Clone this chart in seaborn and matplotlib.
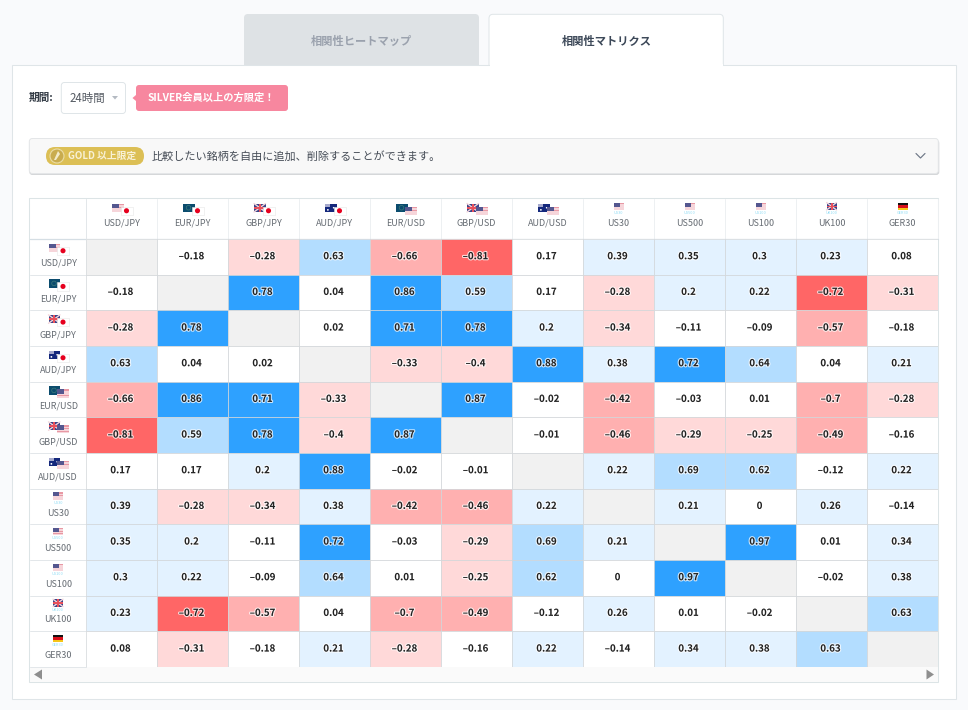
import numpy as np
import pandas as pd
import seaborn as sns
import matplotlib
matplotlib.use("Agg")
import matplotlib.pyplot as plt
from matplotlib.colors import ListedColormap, BoundaryNorm
from matplotlib.patches import Rectangle, FancyBboxPatch, Circle, Polygon
from matplotlib.transforms import ScaledTranslation
import matplotlib.patheffects as pe

symbols = ["USD/JPY", "EUR/JPY", "GBP/JPY", "AUD/JPY", "EUR/USD", "GBP/USD",
           "AUD/USD", "US30", "US500", "US100", "UK100", "GER30"]
n = np.nan
usd_jpy = [n, -0.18, -0.28, 0.63, -0.66, -0.81, 0.17, 0.39, 0.35, 0.3, 0.23, 0.08]
eur_jpy = [-0.18, n, 0.78, 0.04, 0.86, 0.59, 0.17, -0.28, 0.2, 0.22, -0.72, -0.31]
gbp_jpy = [-0.28, 0.78, n, 0.02, 0.71, 0.78, 0.2, -0.34, -0.11, -0.09, -0.57, -0.18]
aud_jpy = [0.63, 0.04, 0.02, n, -0.33, -0.4, 0.88, 0.38, 0.72, 0.64, 0.04, 0.21]
eur_usd = [-0.66, 0.86, 0.71, -0.33, n, 0.87, -0.02, -0.42, -0.03, 0.01, -0.7, -0.28]
gbp_usd = [-0.81, 0.59, 0.78, -0.4, 0.87, n, -0.01, -0.46, -0.29, -0.25, -0.49, -0.16]
aud_usd = [0.17, 0.17, 0.2, 0.88, -0.02, -0.01, n, 0.22, 0.69, 0.62, -0.12, 0.22]
us30 = [0.39, -0.28, -0.34, 0.38, -0.42, -0.46, 0.22, n, 0.21, 0, 0.26, -0.14]
us500 = [0.35, 0.2, -0.11, 0.72, -0.03, -0.29, 0.69, 0.21, n, 0.97, 0.01, 0.34]
us100 = [0.3, 0.22, -0.09, 0.64, 0.01, -0.25, 0.62, 0, 0.97, n, -0.02, 0.38]
uk100 = [0.23, -0.72, -0.57, 0.04, -0.7, -0.49, -0.12, 0.26, 0.01, -0.02, n, 0.63]
ger30 = [0.08, -0.31, -0.18, 0.21, -0.28, -0.16, 0.22, -0.14, 0.34, 0.38, 0.63, n]

band_edges = [-1, -0.705, -0.405, -0.195, 0.195, 0.395, 0.695, 1]
band_colors = ["#FF6666", "#FFB0B0", "#FFD9D9", "#FFFFFF", "#E3F2FF", "#B3DDFF", "#2EA1FF"]

flag_pairs = [("us", "jp"), ("eu", "jp"), ("uk", "jp"), ("au", "jp"), ("eu", "us"), ("uk", "us"),
              ("au", "us"), ("us", None), ("us", None), ("us", None), ("uk", None), ("de", None)]

FONT = ["Noto Sans CJK JP", "DejaVu Sans"]
plt.rcParams["font.family"] = FONT
sns.set_style("white")
plt.rcParams["font.family"] = FONT
plt.rcParams["axes.unicode_minus"] = False

W, H = 968, 710
fig = plt.figure(figsize=(W / 100, H / 100), dpi=100, facecolor="#F9FAFC")
page = fig.add_axes([0, 0, 1, 1])
page.set_xlim(0, W)
page.set_ylim(H, 0)
page.axis("off")

BORDER = "#DFE5E8"

def rect(x0, y0, x1, y1, fc, ec="none", lw=0.8, z=1, alpha=None):
    page.add_patch(Rectangle((x0, y0), x1 - x0, y1 - y0, fc=fc, ec=ec, lw=lw, zorder=z, alpha=alpha))

def rrect(x0, y0, x1, y1, r, fc, ec="none", lw=0.8, z=1, alpha=None):
    page.add_patch(FancyBboxPatch((x0 + r, y0 + r), x1 - x0 - 2 * r, y1 - y0 - 2 * r,
                                  boxstyle=f"round,pad={r},rounding_size={r}",
                                  fc=fc, ec=ec, lw=lw, zorder=z, alpha=alpha))

# Tabs and panel
rrect(244, 14, 479, 80, 4, "#DEE2E5", z=1)
rrect(489, 14.3, 723.3, 80, 4, "#FFFFFF", ec=BORDER, lw=0.7, z=1)
rect(12.3, 65.3, 955.7, 699.3, "#FFFFFF", ec=BORDER, lw=0.75, z=2)
rect(489.6, 64, 722.7, 67, "#FFFFFF", z=3)
page.text(361.5, 41, "相関性ヒートマップ", ha="center", va="center", fontsize=8.1, weight="bold", color="#9AA1AD", zorder=4)
page.text(606.5, 41, "相関性マトリクス", ha="center", va="center", fontsize=8.1, weight="bold", color="#3C4858", zorder=4)

# Controls
page.text(29, 98, "期間:", ha="left", va="center", fontsize=7.7, weight="bold", color="#333B45", zorder=4)
rrect(61.3, 82.5, 125.5, 113.5, 3, "#FFFFFF", ec=BORDER, lw=0.7, z=4)
page.text(70, 98.5, "24時間", ha="left", va="center", fontsize=8.3, color="#555B63", zorder=5)
page.add_patch(Polygon([[112, 96], [118, 96], [115, 99.5]], fc="#B4BAC2", ec="none", zorder=5))
rrect(136, 85, 288, 111, 3, "#F7879F", z=4)
page.add_patch(Polygon([[132.5, 98], [136, 95], [136, 101]], fc="#F7879F", ec="none", zorder=4))
page.text(148, 98, "SILVER会員以上の方限定！", ha="left", va="center", fontsize=7.4, weight="bold", color="#FFFFFF", zorder=5)

# Notice bar
rrect(29.3, 140, 939.3, 175, 3, "#D5D7D9", z=3)
rrect(29.3, 138.5, 938.3, 173.5, 3, "#F8F8F8", ec="#E4E6E8", lw=0.7, z=4)
rrect(46, 147, 144, 165, 9, "#DCBF55", z=5)
page.add_patch(Circle((57, 156), 7, fc="#C9AC4E", ec="#EBDDA6", lw=0.8, zorder=6))
page.add_patch(Polygon([[54, 160], [58, 151], [60, 154], [56, 160]], fc="#F3EBC8", ec="none", zorder=7))
page.text(68.5, 156, "GOLD 以上限定", ha="left", va="center", fontsize=7.0, weight="bold", color="#F8F1D6", zorder=6)
page.text(152, 156, "比較したい銘柄を自由に追加、削除することができます。", ha="left", va="center", fontsize=8.0, color="#464D57", zorder=6)
page.plot([916, 920.5, 925], [153.5, 158, 153.5], color="#6E7787", lw=0.85, zorder=6)

# Table frame
GX0, GX1, GY0, GY1 = 86, 938, 239, 667
rect(29.3, 198.3, 938.3, 682.3, "#FFFFFF", ec="#DCE4E6", lw=0.75, z=3)
rect(30, 667, 937.8, 681.8, "#FAFAFA", z=4)
page.add_patch(Polygon([[34, 674.5], [42, 669.5], [42, 679.5]], fc="#8E8E8E", ec="none", zorder=5))
page.add_patch(Polygon([[934, 674.5], [926.5, 669.5], [926.5, 679.5]], fc="#8E8E8E", ec="none", zorder=5))
cell_w = (GX1 - GX0) / 12
cell_h = (GY1 - GY0) / 12
for i in range(13):
    page.plot([GX0 + i * cell_w] * 2, [198.5, GY0], color="#EDF0F2", lw=0.7, zorder=4)
    page.plot([29.5, GX0], [GY0 + i * cell_h] * 2, color="#E3E7EA", lw=0.7, zorder=4)
page.plot([29.5, 938.3], [GY0, GY0], color="#D5DEE4", lw=0.9, zorder=5)
page.plot([GX0, GX0], [198.5, GY1], color="#E3E7EA", lw=0.7, zorder=5)

# Flags
def flag(kind, x, y, w, h, z=6):
    if kind == "us":
        rect(x, y, x + w, y + h, "#E898A4", z=z)
        for k in range(1, 4):
            rect(x, y + h * (2 * k - 1) / 7 + h / 14, x + w, y + h * (2 * k - 1) / 7 + h * 2 / 7, "#F6D5DA", z=z)
        rect(x, y, x + w * 0.62, y + h * 0.55, "#54578F", z=z)
    elif kind == "jp":
        rect(x, y, x + w, y + h, "#FFFFFF", ec="#E6E6E6", lw=0.4, z=z)
        page.add_patch(Circle((x + w / 2, y + h / 2), h * 0.3, fc="#E6001E", ec="none", zorder=z + 0.1))
    elif kind == "eu":
        rect(x, y, x + w, y + h, "#0B4C6E", z=z)
        page.add_patch(Circle((x + w * 0.48, y + h / 2), h * 0.27, fc="none", ec="#3E7A7A", lw=0.5, zorder=z + 0.1))
    elif kind == "uk":
        rect(x, y, x + w, y + h, "#3A4389", z=z)
        page.plot([x, x + w], [y, y + h], color="#F4D6DA", lw=1.0, zorder=z + 0.1)
        page.plot([x, x + w], [y + h, y], color="#F4D6DA", lw=1.0, zorder=z + 0.1)
        rect(x + w * 0.4, y, x + w * 0.6, y + h, "#E8505B", z=z + 0.2)
        rect(x, y + h * 0.4, x + w, y + h * 0.6, "#E8505B", z=z + 0.2)
    elif kind == "au":
        rect(x, y, x + w, y + h, "#14287C", z=z)
        rect(x, y, x + w * 0.45, y + h * 0.45, "#A5A9CC", z=z + 0.1)
        page.add_patch(Circle((x + w * 0.25, y + h * 0.75), 0.9, fc="#FFFFFF", ec="none", zorder=z + 0.2))
        page.add_patch(Circle((x + w * 0.75, y + h * 0.5), 0.8, fc="#FFFFFF", ec="none", zorder=z + 0.2))
    elif kind == "de":
        rect(x, y, x + w, y + h / 3, "#111111", z=z)
        rect(x, y + h / 3, x + w, y + 2 * h / 3, "#D8101A", z=z)
        rect(x, y + 2 * h / 3, x + w, y + h, "#F5C518", z=z)

def flag_group(name, pair, cx, top):
    a, b = pair
    if b is None:
        flag(a, cx - 5, top - 1, 10, 7.5)
        page.text(cx, top + 9.5, name, ha="center", va="center", fontsize=2.8, color="#8FDCF5", zorder=6)
    else:
        flag(a, cx - 9.5, top, 11.5, 8.5)
        flag(b, cx - 1, top + 3, 12, 8.5, z=7)

for i, (name, pair) in enumerate(zip(symbols, flag_pairs)):
    flag_group(name, pair, GX0 + (i + 0.5) * cell_w, 203.5)
    flag_group(name, pair, 58, GY0 + i * cell_h + 4.5)

# Heatmap
data = pd.DataFrame([usd_jpy, eur_jpy, gbp_jpy, aud_jpy, eur_usd, gbp_usd,
                     aud_usd, us30, us500, us100, uk100, ger30], index=symbols, columns=symbols)
labels = data.map(lambda v: "" if pd.isna(v) else f"{v:g}".replace("-", "–"))
cmap = ListedColormap(band_colors)
cmap.set_bad("#F1F1F1")
norm = BoundaryNorm(band_edges, cmap.N)

ax = fig.add_axes([GX0 / W, 1 - GY1 / H, (GX1 - GX0) / W, (GY1 - GY0) / H], zorder=5)
sns.heatmap(data, ax=ax, cmap=cmap, norm=norm, cbar=False, annot=labels.values, fmt="",
            linewidths=0.5, linecolor="#D2D6D9", antialiased=True,
            annot_kws={"fontsize": 7.0, "weight": "bold", "color": "#222222",
                       "path_effects": [pe.withStroke(linewidth=1.6, foreground="#FFFFFF", alpha=0.75)]})
for t in ax.texts:
    px, py = t.get_position()
    t.set_position((px - 1 / cell_w, py - 0.6 / cell_h))
ax.xaxis.tick_top()
ax.tick_params(axis="both", length=0)
ax.set_xlabel("")
ax.set_ylabel("")
ax.set_xticklabels(symbols, rotation=0, fontsize=6.5, color="#666C73")
ax.tick_params(axis="x", pad=8)
ax.set_yticklabels(symbols, rotation=0, fontsize=6.5, color="#666C73", ha="center", va="top")
ax.tick_params(axis="y", pad=20)
shift = ScaledTranslation(0, -2 / 100, fig.dpi_scale_trans)
for lab in ax.get_yticklabels():
    lab.set_transform(lab.get_transform() + shift)

fig.savefig("out.png", dpi=100, facecolor=fig.get_facecolor())
